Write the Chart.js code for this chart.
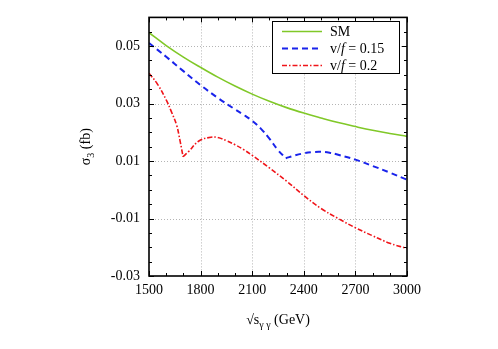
<!DOCTYPE html>
<html>
<head>
<meta charset="utf-8">
<script src="https://cdn.jsdelivr.net/npm/chart.js@4.4.0/dist/chart.umd.min.js"></script>
<style>
  html, body { margin: 0; padding: 0; background: #fff; }
</style>
</head>
<body>
<canvas id="chart" width="498" height="349"></canvas>
<script>
/* ── data ────────────────────────────────────────────────── */

const SERIES_LABELS = ["SM", "v/f = 0.15", "v/f = 0.2"];

const smX = [1500,1600,1700,1800,1900,2000,2100,2200,2300,2400,2500,2600,2700,2800,2900,3000];
const smY = [0.0547,0.0502,0.0462,0.0426,0.0392,0.0361,0.0333,0.0308,0.0286,0.0267,0.0250,0.0234,0.0220,0.0207,0.0196,0.0186];

const vf15X = [1500,1600,1700,1800,1900,2000,2050,2100,2150,2200,2250,2295,2350,2400,2450,2500,2550,2600,2700,2800,2900,3000];
const vf15Y = [0.0511,0.0463,0.0413,0.0364,0.0320,0.0280,0.0261,0.0240,0.0213,0.0178,0.0138,0.0110,0.0120,0.0127,0.0131,0.0132,0.0129,0.0122,0.0105,0.0083,0.0060,0.0035];

const vf2X = [1500,1550,1600,1630,1660,1680,1698,1730,1790,1860,1900,1950,2000,2050,2100,2200,2300,2400,2500,2600,2700,2800,2900,3000];
const vf2Y = [0.0406,0.0367,0.0313,0.0272,0.0226,0.0172,0.0115,0.0133,0.0170,0.0183,0.0182,0.0171,0.0157,0.0140,0.0120,0.0076,0.0030,-0.0020,-0.0065,-0.0100,-0.0132,-0.0160,-0.0186,-0.0204];

// x position of the sharp minimum (kink) in each BSM curve
const vf15Kink = 2295;
const vf2Kink  = 1698;

const xMajor = [1500,1800,2100,2400,2700,3000];
const xMinor = [1600,1700,1900,2000,2200,2300,2500,2600,2800,2900];
const yMajor = [-0.03,-0.01,0.01,0.03,0.05];
const yMinor = [-0.025,-0.02,-0.015,-0.005,0,0.005,0.015,0.02,0.025,0.035,0.04,0.045,0.055];

/* ── styles ──────────────────────────────────────────────── */

const GREEN = "rgb(128,200,40)";
const BLUE  = "rgb(25,35,235)";
const RED   = "rgb(240,20,25)";
const SERIF = "'Liberation Serif', 'DejaVu Serif', serif";

const STYLES = [
  { color: GREEN, width: 1.6, dash: [] },
  { color: BLUE,  width: 2,   dash: [6, 4] },
  { color: RED,   width: 1.6, dash: [5, 2, 1.5, 2] },
];

const zip = (xs, ys) => xs.map((x, i) => ({ x, y: ys[i] }));

// split a curve at its kink so that the spline keeps the corner sharp
function splitAt(points, kinkX) {
  const k = points.findIndex(p => p.x === kinkX);
  return [points.slice(0, k + 1), points.slice(k)];
}

/* ── decorations: grid, frame, ticks, legend, titles ────── */

function drawRich(ctx, parts, x0, y0) {
  let tx = x0;
  parts.forEach(([t, sz, dy, st]) => {
    ctx.font = `${st || "normal"} ${sz}px ${SERIF}`;
    ctx.fillText(t, tx, y0 + dy);
    tx += ctx.measureText(t).width;
  });
}

function richWidth(ctx, parts) {
  return parts.reduce((w, [t, sz, , st]) => {
    ctx.font = `${st || "normal"} ${sz}px ${SERIF}`;
    return w + ctx.measureText(t).width;
  }, 0);
}

const decor = {
  id: "decor",
  beforeDatasetsDraw(chart) {
    const { ctx, chartArea: a, scales: { x, y } } = chart;
    ctx.save();
    ctx.strokeStyle = "#b4b4b4";
    ctx.lineWidth = 1;
    ctx.setLineDash([1, 2]);
    xMajor.slice(1, -1).forEach(v => {
      const px = Math.round(x.getPixelForValue(v)) + 0.5;
      ctx.beginPath(); ctx.moveTo(px, a.top); ctx.lineTo(px, a.bottom); ctx.stroke();
    });
    yMajor.slice(1).forEach(v => {
      const py = Math.round(y.getPixelForValue(v)) + 0.5;
      ctx.beginPath(); ctx.moveTo(a.left, py); ctx.lineTo(a.right, py); ctx.stroke();
    });
    ctx.restore();
  },
  afterDatasetsDraw(chart) {
    const { ctx, chartArea: a, scales: { x, y } } = chart;
    ctx.save();
    ctx.setLineDash([]);
    ctx.strokeStyle = "#000";

    // ticks, inward on all four sides
    ctx.lineWidth = 1;
    const tickX = (v, len) => {
      const px = Math.round(x.getPixelForValue(v)) + 0.5;
      ctx.beginPath();
      ctx.moveTo(px, a.bottom); ctx.lineTo(px, a.bottom - len);
      ctx.moveTo(px, a.top);    ctx.lineTo(px, a.top + len);
      ctx.stroke();
    };
    const tickY = (v, len) => {
      const py = Math.round(y.getPixelForValue(v)) + 0.5;
      ctx.beginPath();
      ctx.moveTo(a.left, py);  ctx.lineTo(a.left + len, py);
      ctx.moveTo(a.right, py); ctx.lineTo(a.right - len, py);
      ctx.stroke();
    };
    xMajor.forEach(v => tickX(v, 5));
    xMinor.forEach(v => tickX(v, 3));
    yMajor.forEach(v => tickY(v, 5));
    yMinor.forEach(v => tickY(v, 3));

    // frame
    ctx.lineWidth = 1.6;
    ctx.strokeRect(a.left, a.top, a.right - a.left, a.bottom - a.top);

    // legend
    const lx = 272, ly = 21, lw = 127, lh = 52;
    ctx.fillStyle = "#fff";
    ctx.fillRect(lx, ly, lw, lh);
    ctx.lineWidth = 1;
    ctx.strokeRect(lx + 0.5, ly + 0.5, lw, lh);
    STYLES.forEach((s, i) => {
      const ry = 31.5 + i * 17;
      ctx.strokeStyle = s.color;
      ctx.lineWidth = s.width;
      ctx.setLineDash(s.dash);
      ctx.beginPath(); ctx.moveTo(282, ry); ctx.lineTo(322, ry); ctx.stroke();
      ctx.setLineDash([]);
      ctx.fillStyle = "#000";
      ctx.textBaseline = "middle";
      ctx.textAlign = "left";
      if (i === 0) {
        drawRich(ctx, [[SERIES_LABELS[0], 14, 0]], 330, ry + 1);
      } else {
        const lab = SERIES_LABELS[i];
        drawRich(ctx, [["v/", 14, 0], ["f", 14, 0, "italic"], [lab.slice(3), 14, 0]], 330, ry + 1);
      }
    });

    // x title: √s_γγ (GeV)
    ctx.fillStyle = "#000";
    ctx.textBaseline = "alphabetic";
    ctx.textAlign = "left";
    const xt = [["√", 14, 0], ["s", 14, 0], ["γ γ", 10, 4], [" (GeV)", 14, 0]];
    drawRich(ctx, xt, (a.left + a.right) / 2 - richWidth(ctx, xt) / 2, 324);

    // y title: σ_3 (fb)
    ctx.save();
    ctx.translate(90, (a.top + a.bottom) / 2);
    ctx.rotate(-Math.PI / 2);
    const yt = [["σ", 14, 0], ["3", 10, 4], [" (fb)", 14, 0]];
    drawRich(ctx, yt, -richWidth(ctx, yt) / 2, 0);
    ctx.restore();

    ctx.restore();
  },
};

/* ── chart ───────────────────────────────────────────────── */

const curves = [
  { style: STYLES[0], parts: [zip(smX, smY)] },
  { style: STYLES[1], parts: splitAt(zip(vf15X, vf15Y), vf15Kink) },
  { style: STYLES[2], parts: splitAt(zip(vf2X, vf2Y), vf2Kink) },
];

const datasets = [];
curves.forEach((c, i) => {
  c.parts.forEach(data => {
    datasets.push({
      label: SERIES_LABELS[i],
      data,
      borderColor: c.style.color,
      borderWidth: c.style.width,
      borderDash: c.style.dash,
      pointRadius: 0,
      fill: false,
      tension: 0.4,
    });
  });
});

new Chart(document.getElementById("chart"), {
  type: "line",
  data: { datasets },
  plugins: [decor],
  options: {
    responsive: false,
    animation: false,
    layout: { padding: { top: 16, right: 91, left: 0, bottom: 0 } },
    plugins: { legend: { display: false }, tooltip: { enabled: false } },
    scales: {
      x: {
        type: "linear",
        min: 1500, max: 3000,
        afterFit: s => { s.height = 73; },
        afterBuildTicks: s => { s.ticks = xMajor.map(value => ({ value })); },
        grid: { display: false, drawTicks: false },
        border: { display: false },
        ticks: {
          color: "#000",
          padding: 6,
          maxRotation: 0,
          autoSkip: false,
          font: { family: SERIF, size: 14 },
          callback: v => String(v),
        },
      },
      y: {
        type: "linear",
        min: -0.03, max: 0.06,
        afterFit: s => { s.width = 149; },
        afterBuildTicks: s => { s.ticks = yMajor.map(value => ({ value })); },
        grid: { display: false, drawTicks: false },
        border: { display: false },
        ticks: {
          color: "#000",
          padding: 9,
          autoSkip: false,
          font: { family: SERIF, size: 14 },
          callback: v => v.toFixed(2),
        },
      },
    },
  },
});
</script>
</body>
</html>
